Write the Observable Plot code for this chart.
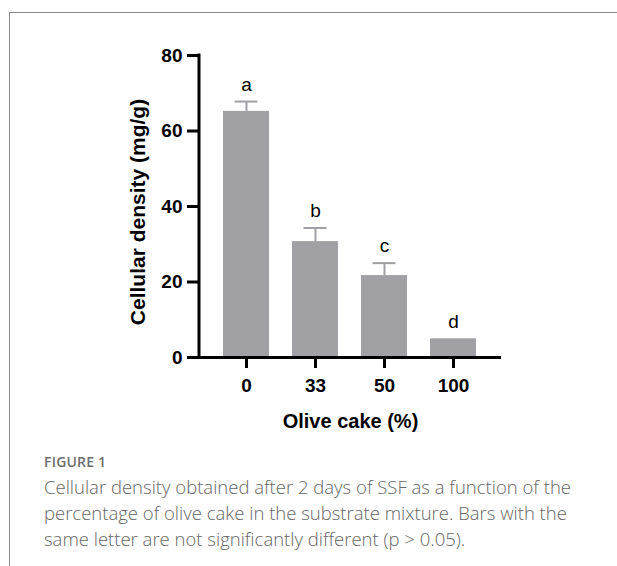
<!DOCTYPE html>
<html>
<head>
<meta charset="utf-8">
<script src="https://cdn.jsdelivr.net/npm/d3@7"></script>
<script src="https://cdn.jsdelivr.net/npm/@observablehq/plot@0.6"></script>
<style>
  html, body { margin: 0; padding: 0; background: #fff; }
  #wrap { position: relative; width: 617px; height: 566px; overflow: hidden; background: #fff; }
  #frame { position: absolute; left: 9px; top: 12px; width: 700px; height: 700px;
           border-top: 1px solid #8a8a8a; border-left: 1px solid #8a8a8a; }
  #chart { position: absolute; left: 0; top: 0; }
  #fig { position: absolute; left: 44px; top: 452px; font-family: "Open Sans", sans-serif;
         font-size: 14px; font-weight: 600; color: #6e6e6e; letter-spacing: 0.2px; }
  #cap { position: absolute; left: 44px; top: 474px; width: 570px; font-family: "Open Sans", sans-serif;
         font-size: 18.5px; font-weight: 300; color: #666; line-height: 26px; }
  #cap div { white-space: nowrap; }
  #chart g[aria-label="y-axis tick label"], #chart g[aria-label="x-axis tick label"] { font-size: 19px; font-weight: bold; }
</style>
</head>
<body>
<div id="wrap">
  <div id="frame"></div>
  <div id="chart"></div>
  <div id="fig">FIGURE 1</div>
  <div id="cap">
    <div>Cellular density obtained after 2 days of SSF as a function of the</div>
    <div>percentage of olive cake in the substrate mixture. Bars with the</div>
    <div>same letter are not significantly different (p &gt; 0.05).</div>
  </div>
</div>
<script>
// Data
const categories = ["0", "33", "50", "100"];
const means = [65.2, 30.7, 21.7, 4.95];
const errors = [2.6, 3.6, 3.3, 0];
const letters = ["a", "b", "c", "d"];
const yTicks = [0, 20, 40, 60, 80];
const xLabel = "Olive cake (%)";
const yLabel = "Cellular density (mg/g)";

const data = categories.map((c, i) => ({cat: c, value: means[i], err: errors[i], letter: letters[i]}));
const withErr = data.filter(d => d.err > 0);

const font = "'Liberation Sans', Arial, Helvetica, sans-serif";
const barColor = "#a1a1a5";

// left axis line drawn via scales
function leftAxisLine(index, scales, values, dimensions) {
  const svg = d3.create("svg:g");
  const y = scales.y;
  svg.append("line")
    .attr("x1", dimensions.marginLeft).attr("x2", dimensions.marginLeft)
    .attr("y1", y(yTicks[yTicks.length - 1])).attr("y2", y(0))
    .attr("stroke", "black").attr("stroke-width", 3).attr("stroke-linecap", "square");
  return svg.node();
}

const chart = Plot.plot({
  width: 617,
  height: 440,
  marginLeft: 199,
  marginRight: 116,
  marginTop: 55,
  marginBottom: 83,
  style: {fontFamily: font, background: "transparent", overflow: "visible"},
  x: {domain: categories, padding: 0.333, label: null},
  y: {domain: [0, 80], label: null},
  marks: [
    Plot.barY(data, {x: "cat", y: "value", fill: barColor}),
    Plot.ruleX(withErr, {x: "cat", y1: "value", y2: d => d.value + d.err, stroke: barColor, strokeWidth: 2}),
    Plot.tickY(withErr, {x: "cat", y: d => d.value + d.err, stroke: barColor, strokeWidth: 2, insetLeft: 11.5, insetRight: 11.5}),
    Plot.text(data, {x: "cat", y: d => d.value + d.err, text: "letter", dy: -11, lineAnchor: "bottom",
      fontSize: 19, fontWeight: "normal", fill: "black"}),
    Plot.axisY({ticks: yTicks, tickSize: 12, tickPadding: 5, strokeWidth: 3, stroke: "black",
      fontSize: 19, fontWeight: "bold", fill: "black", label: null}),
    Plot.axisX({tickSize: 11, tickPadding: 10, strokeWidth: 3, stroke: "black",
      fontSize: 19, fontWeight: "bold", fill: "black", label: null}),
    Plot.ruleY([0], {stroke: "black", strokeWidth: 3}),
    leftAxisLine,
    Plot.text([yLabel], {frameAnchor: "left", rotate: -90, dx: -55, dy: 5.5, lineAnchor: "bottom",
      textAnchor: "middle", fontSize: 21, fontWeight: "bold", fill: "black"}),
    Plot.text([xLabel], {frameAnchor: "bottom", dy: 70, lineAnchor: "bottom",
      fontSize: 20, fontWeight: "bold", fill: "black"})
  ]
});
document.getElementById("chart").appendChild(chart);
</script>
</body>
</html>
